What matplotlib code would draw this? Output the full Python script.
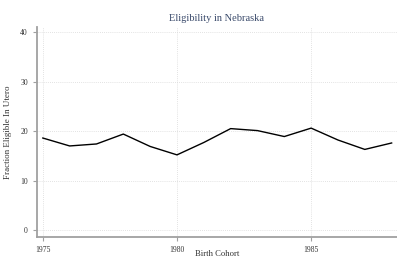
import matplotlib
matplotlib.use("Agg")
import matplotlib.pyplot as plt

years = [1975, 1976, 1977, 1978, 1979, 1980, 1981, 1982, 1983, 1984, 1985, 1986, 1987, 1988]
eligible = [18.6, 17.0, 17.4, 19.4, 16.9, 15.2, 17.7, 20.5, 20.1, 18.9, 20.6, 18.2, 16.3, 17.6]

xticks = [1975, 1980, 1985]
yticks = [0, 10, 20, 30, 40]

plt.rcParams['font.family'] = ['Liberation Serif', 'DejaVu Serif']

fig = plt.figure(figsize=(3.97, 2.6), dpi=100, facecolor='w')
ax = fig.add_axes([0.093, 0.088, 0.907, 0.808])

ax.plot(years, eligible, color='black', lw=1.0)

ax.set_xlim(1974.78, 1988.2)
ax.set_ylim(-1.4, 41.0)
ax.set_xticks(xticks)
ax.set_yticks(yticks)
ax.grid(True, color='#d9d9d9', linestyle=(0, (1, 1.5)), lw=0.6)

for side in ['top', 'right']:
    ax.spines[side].set_visible(False)
for side in ['left', 'bottom']:
    ax.spines[side].set_color('#a0a0a0')
    ax.spines[side].set_linewidth(1.3)

ax.tick_params(axis='both', colors='#a0a0a0', labelcolor='#333333', labelsize=5.5, length=3, width=0.8)
ax.set_title('Eligibility in Nebraska', fontsize=7.5, color='#3a4a6b', pad=4)
ax.set_xlabel('Birth Cohort', fontsize=6.2, color='#333333')
ax.xaxis.set_label_coords(0.5, -0.062)
ax.set_ylabel('Fraction Eligible In Utero', fontsize=6.5, color='#333333', labelpad=6)

fig.savefig('out.png', dpi=100)
